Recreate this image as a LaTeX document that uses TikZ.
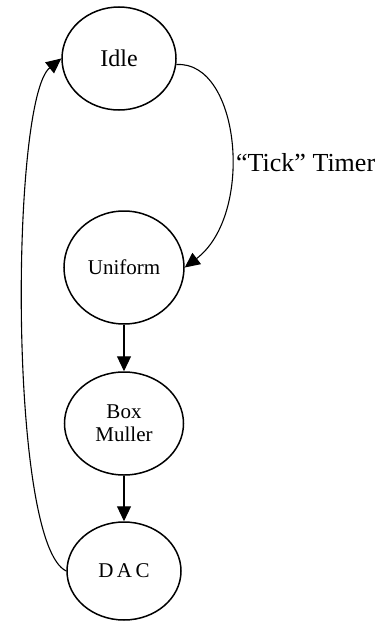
\documentclass[tikz,border=0pt]{standalone}
\usepackage{fontspec}
\setmainfont{Liberation Serif}
\usetikzlibrary{shapes.geometric,arrows.meta}
\begin{document}
\begin{tikzpicture}[x=1pt,y=-1pt,
  state/.style={draw,ellipse,line width=1.5pt,inner sep=0pt},
  conn/.style={line width=1.1pt,-{Triangle[length=15pt,width=14pt]}},
  lab/.style={font=\fontsize{21}{23}\selectfont,align=center}]
\useasboundingbox (0,0) rectangle (385,621);
\node[state,minimum width=114pt,minimum height=103pt,font=\fontsize{24}{26}\selectfont] (idle) at (119,58.5) {Idle};
\node[state,minimum width=120pt,minimum height=113pt,lab] (uniform) at (124,267.5) {Uniform};
\node[state,minimum width=119pt,minimum height=103pt,lab] (box) at (124,423.5) {Box\\Muller};
\node[state,minimum width=114pt,minimum height=98pt,lab] (dac) at (124,571) {D\,A\,C};
\node[anchor=west,font=\fontsize{26}{28}\selectfont,inner sep=0pt] (tick) at (236,163) {“Tick” Timer};
\draw[conn] (uniform.south) -- (box.north);
\draw[conn] (box.south) -- (dac.north);
\draw[conn] (idle.-6) .. controls +(64,-4) and +(70,-53) .. (uniform.east);
\draw[conn] (dac.west) .. controls +(-58,-27) and +(-51,41) .. (idle.west);
\end{tikzpicture}
\end{document}
